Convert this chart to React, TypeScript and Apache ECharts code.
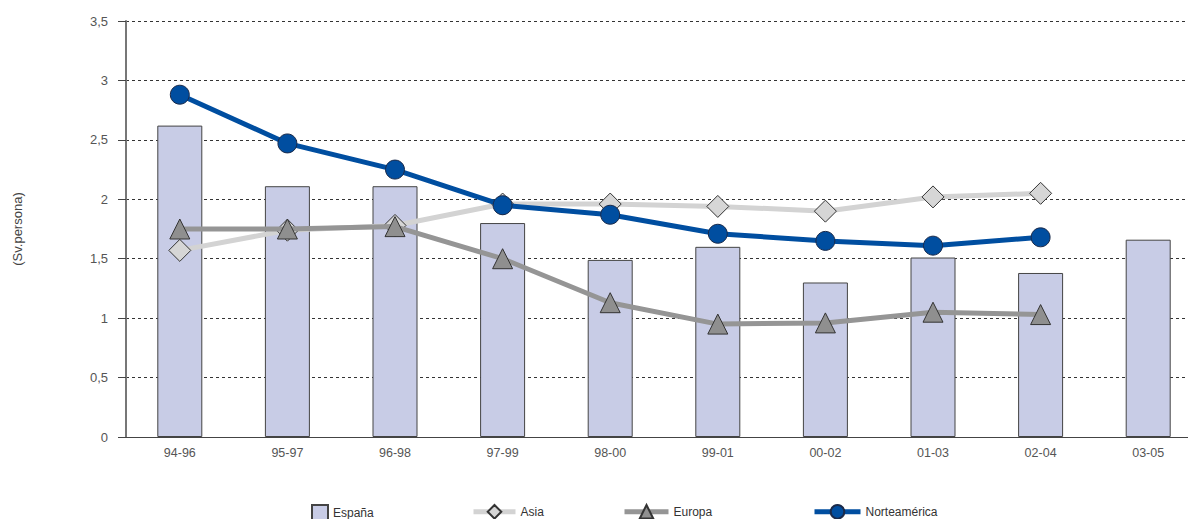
import React, { useEffect, useRef } from "react";
import * as echarts from "echarts";

const categories = ["94-96", "95-97", "96-98", "97-99", "98-00", "99-01", "00-02", "01-03", "02-04", "03-05"];
const espana = [2.62, 2.11, 2.11, 1.8, 1.49, 1.6, 1.3, 1.51, 1.38, 1.66];
const asia = [1.57, 1.74, 1.78, 1.96, 1.96, 1.94, 1.9, 2.02, 2.05, null];
const europa = [1.75, 1.75, 1.77, 1.5, 1.13, 0.95, 0.96, 1.05, 1.03, null];
const norteamerica = [2.88, 2.47, 2.25, 1.95, 1.87, 1.71, 1.65, 1.61, 1.68, null];
const yTicks = [0, 0.5, 1, 1.5, 2, 2.5, 3, 3.5];

const FONT = "'Liberation Sans', Arial, sans-serif";

export default function App() {
  const ref = useRef<HTMLDivElement>(null);
  useEffect(() => {
    document.body.style.margin = "0";
    const chart = echarts.init(ref.current!, null, { renderer: "svg" });
    const legendText = { fontFamily: FONT, fontSize: 12, color: "#333" };
    const common = { top: 499, itemHeight: 17, textStyle: legendText, selectedMode: false, lineStyle: { width: 5 } };
    chart.setOption({
      animation: false,
      backgroundColor: "#fff",
      grid: { left: 126, top: 21, width: 1076, height: 416 },
      legend: [
        { ...common, data: [{ name: "España", icon: "rect" }], left: 306, itemWidth: 16, itemHeight: 16 },
        { ...common, data: ["Asia"], left: 466, itemWidth: 42 },
        { ...common, data: ["Europa"], left: 617, itemWidth: 44 },
        { ...common, data: ["Norteamérica"], left: 807, itemWidth: 46 },
      ],
      xAxis: {
        type: "category",
        data: categories,
        axisLine: { lineStyle: { color: "#444", width: 1 } },
        axisTick: { alignWithLabel: true, length: 5, lineStyle: { color: "#444" } },
        axisLabel: { fontFamily: FONT, fontSize: 12.5, color: "#555", margin: 9 },
      },
      yAxis: {
        type: "value",
        min: 0,
        max: 3.5,
        interval: 0.5,
        name: "(Sv.persona)",
        nameLocation: "middle",
        nameGap: 102,
        nameTextStyle: { fontFamily: FONT, fontSize: 13, color: "#444" },
        axisLine: { show: true, lineStyle: { color: "#777", width: 2 } },
        axisTick: { show: true, length: 8, lineStyle: { color: "#444" } },
        axisLabel: {
          fontFamily: FONT,
          fontSize: 13,
          color: "#555",
          margin: 18,
          formatter: (v: number) => (yTicks.includes(v) ? String(v).replace(".", ",") : ""),
        },
        splitLine: { show: true, lineStyle: { color: "#333", type: [3, 3], width: 1 } },
      },
      series: [
        {
          name: "España",
          type: "bar",
          data: espana,
          barWidth: 45,
          itemStyle: { color: "#c8cce6", borderColor: "#444", borderWidth: 1 },
          z: 1,
        },
        {
          name: "Asia",
          type: "line",
          data: asia,
          symbol: "diamond",
          symbolSize: 22,
          lineStyle: { color: "#d3d3d3", width: 5 },
          itemStyle: { color: "#d6d6d6", borderColor: "#333", borderWidth: 1 },
          z: 3,
        },
        {
          name: "Europa",
          type: "line",
          data: europa,
          symbol: "triangle",
          symbolSize: 20,
          lineStyle: { color: "#959595", width: 5 },
          itemStyle: { color: "#8f8f8f", borderColor: "#333", borderWidth: 1 },
          z: 4,
        },
        {
          name: "Norteamérica",
          type: "line",
          data: norteamerica,
          symbol: "circle",
          symbolSize: 19,
          lineStyle: { color: "#004ea0", width: 5 },
          itemStyle: { color: "#004ea0", borderColor: "#1a2a4a", borderWidth: 1 },
          z: 5,
        },
      ],
    });
    return () => chart.dispose();
  }, []);
  return (
    <div style={{ width: 1188, height: 519, overflow: "hidden" }}>
      <div ref={ref} style={{ width: 1210, height: 519 }} />
    </div>
  );
}
